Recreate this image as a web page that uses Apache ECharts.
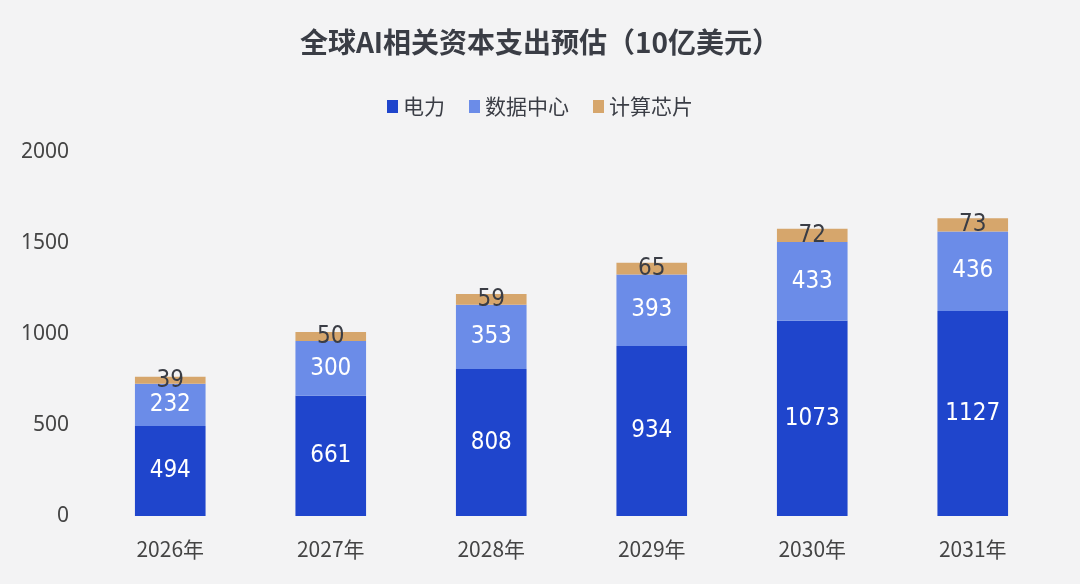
<!DOCTYPE html>
<html>
<head>
<meta charset="utf-8">
<script src="https://cdn.jsdelivr.net/npm/echarts@6/dist/echarts.min.js"></script>
<style>
  html, body { margin: 0; padding: 0; background: #f3f3f4; }
  #main { width: 1080px; height: 584px; }
</style>
</head>
<body>
<div id="main"></div>
<script>
// 全球AI相关资本支出预估（10亿美元）
var years = ['2026年', '2027年', '2028年', '2029年', '2030年', '2031年'];
var power = [494, 661, 808, 934, 1073, 1127];
var dataCenter = [232, 300, 353, 393, 433, 436];
var chips = [39, 50, 59, 65, 72, 73];

var labelFont = '"DejaVu Sans Condensed", "Roboto", sans-serif';

function barSeries(name, data, color, labelColor) {
    return {
        name: name,
        type: 'bar',
        stack: 'total',
        barWidth: '44%',
        data: data,
        itemStyle: { color: color },
        label: {
            show: true,
            position: 'inside',
            color: labelColor,
            fontSize: 24,
            fontFamily: labelFont
        }
    };
}

var option = {
    backgroundColor: '#f3f3f4',
    title: {
        text: '全球AI相关资本支出预估（10亿美元）',
        left: 'center',
        top: 23,
        textStyle: {
            fontSize: 28,
            fontWeight: 'bold',
            color: '#3a3d45',
            fontFamily: '"Noto Sans CJK SC", sans-serif'
        }
    },
    legend: {
        top: 91,
        left: 'center',
        itemWidth: 11,
        itemHeight: 13,
        itemGap: 24,
        icon: 'rect',
        textStyle: {
            fontSize: 21,
            color: '#3a3d45',
            fontFamily: '"Noto Sans CJK SC", sans-serif'
        },
        data: ['电力', '数据中心', '计算芯片']
    },
    grid: {
        left: 90,
        right: 27,
        top: 152,
        bottom: 68
    },
    xAxis: {
        type: 'category',
        data: years,
        axisLine: { show: false },
        axisTick: { show: false },
        axisLabel: {
            fontSize: 21,
            color: '#444',
            margin: 23,
            fontFamily: '"Noto Sans CJK SC", sans-serif'
        }
    },
    yAxis: {
        type: 'value',
        min: 0,
        max: 2000,
        interval: 500,
        splitLine: { show: false },
        axisLine: { show: false },
        axisTick: { show: false },
        axisLabel: {
            fontSize: 21,
            color: '#444',
            margin: 21,
            formatter: function (v) { return String(v); },
            fontFamily: '"Noto Sans", sans-serif'
        }
    },
    series: [
        barSeries('电力', power, '#1f45cc', '#ffffff'),
        barSeries('数据中心', dataCenter, '#6b8ce8', '#ffffff'),
        barSeries('计算芯片', chips, '#d6a66c', '#3a3d45')
    ]
};

var myChart = echarts.init(document.getElementById('main'));
myChart.setOption(option);
</script>
</body>
</html>
